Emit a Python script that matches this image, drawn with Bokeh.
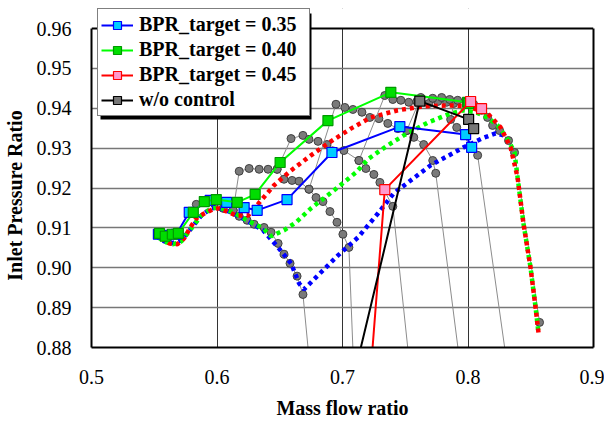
from bokeh.plotting import figure
from bokeh.models import (Legend, LegendItem, FixedTicker, Range1d, PrintfTickFormatter,
                          BoxAnnotation, Span, LinearAxis)
from bokeh.embed import file_html
from bokeh.resources import INLINE

# ---------------- data ----------------
bpr35_x = [0.5533, 0.5596, 0.5676, 0.5779, 0.5946, 0.6077, 0.6216, 0.6320, 0.6558, 0.6916, 0.7457, 0.7981, 0.8029]
bpr35_y = [0.9084, 0.9081, 0.9084, 0.9139, 0.9169, 0.9164, 0.9151, 0.9144, 0.9171, 0.9289, 0.9354, 0.9334, 0.9302]

bpr40_x = [0.5541, 0.5588, 0.5644, 0.5692, 0.5811, 0.5899, 0.5994, 0.6161, 0.6304, 0.6503, 0.6884, 0.7385, 0.7997, 0.8005]
bpr40_y = [0.9086, 0.9079, 0.9084, 0.9086, 0.9139, 0.9166, 0.9171, 0.9164, 0.9184, 0.9264, 0.9369, 0.9440, 0.9415, 0.9412]

bpr45_x = [0.7215, 0.7337, 0.8021, 0.8108]
bpr45_y = [0.8700, 0.9196, 0.9417, 0.9399]

noctrl_x = [0.7070, 0.7616, 0.8005, 0.8045]
noctrl_y = [0.8700, 0.9418, 0.9372, 0.9349]

# gray characteristic lines
spd1_x = [0.5835, 0.5978, 0.6049, 0.6129, 0.6177, 0.6240, 0.6296, 0.6375, 0.6431, 0.6487, 0.6534, 0.6582, 0.6638, 0.6685, 0.6765]
spd1_y = [0.9159, 0.9161, 0.9149, 0.9144, 0.9129, 0.9119, 0.9109, 0.9101, 0.9089, 0.9061, 0.9034, 0.9011, 0.8979, 0.8933, 0.8668]

spd2_x = [0.6129, 0.6177, 0.6256, 0.6336, 0.6407, 0.6479, 0.6534, 0.6598, 0.6654, 0.6733, 0.6789, 0.6844, 0.6900, 0.6956, 0.7003, 0.7051, 0.7099]
spd2_y = [0.9144, 0.9242, 0.9249, 0.9247, 0.9247, 0.9247, 0.9222, 0.9219, 0.9217, 0.9197, 0.9176, 0.9166, 0.9141, 0.9114, 0.9084, 0.9051, 0.8668]

spd3_x = [0.6479, 0.6590, 0.6685, 0.6733, 0.6805, 0.6876, 0.7011, 0.7131, 0.7186, 0.7250, 0.7298, 0.7401, 0.7564]
spd3_y = [0.9247, 0.9324, 0.9332, 0.9322, 0.9317, 0.9309, 0.9294, 0.9269, 0.9249, 0.9234, 0.9214, 0.9154, 0.8668]

spd4_x = [0.6733, 0.6948, 0.7019, 0.7083, 0.7155, 0.7218, 0.7290, 0.7361, 0.7441, 0.7512, 0.7568, 0.7647, 0.7719, 0.7743, 0.7973]
spd4_y = [0.9197, 0.9410, 0.9402, 0.9397, 0.9390, 0.9377, 0.9374, 0.9362, 0.9349, 0.9344, 0.9327, 0.9309, 0.9269, 0.9237, 0.8668]

spd5_x = [0.7131, 0.7337, 0.7401, 0.7465, 0.7528, 0.7592, 0.7687, 0.7759, 0.7830, 0.7886, 0.7862, 0.7910, 0.8077, 0.8351]
spd5_y = [0.9269, 0.9432, 0.9422, 0.9420, 0.9415, 0.9417, 0.9412, 0.9417, 0.9415, 0.9412, 0.9372, 0.9352, 0.9282, 0.8668]

spd6_x = [0.7512, 0.7624, 0.7719, 0.7790, 0.7854, 0.7918, 0.7981, 0.8045, 0.8108, 0.8156, 0.8196, 0.8252, 0.8323, 0.8371, 0.8570]
spd6_y = [0.9344, 0.9427, 0.9425, 0.9427, 0.9422, 0.9420, 0.9417, 0.9410, 0.9395, 0.9377, 0.9357, 0.9344, 0.9319, 0.9289, 0.8863]

# dotted stability lines
dot35_x = [0.5517, 0.5580, 0.5636, 0.5716, 0.5795, 0.5875, 0.5954, 0.6002, 0.6113, 0.6232, 0.6367, 0.6487, 0.6590,
           0.6654, 0.6693, 0.6805, 0.6964, 0.7123, 0.7282, 0.7409, 0.7703, 0.7965, 0.8108, 0.8220, 0.8283, 0.8323]
dot35_y = [0.9079, 0.9066, 0.9061, 0.9069, 0.9099, 0.9131, 0.9149, 0.9151, 0.9139, 0.9119, 0.9094, 0.9051, 0.9011,
           0.8961, 0.8946, 0.8981, 0.9031, 0.9076, 0.9136, 0.9187, 0.9257, 0.9302, 0.9324, 0.9337, 0.9332, 0.9319]

dot40_x = [0.5533, 0.5596, 0.5652, 0.5716, 0.5795, 0.5875, 0.5954, 0.6010, 0.6129, 0.6256, 0.6367, 0.6431, 0.6534,
           0.6630, 0.6749, 0.6964, 0.7107, 0.7210, 0.7361, 0.7488, 0.7679, 0.7862, 0.7965, 0.8061, 0.8156, 0.8236,
           0.8323, 0.8371, 0.8395, 0.8442, 0.8498, 0.8538, 0.8562]
dot40_y = [0.9076, 0.9064, 0.9059, 0.9066, 0.9099, 0.9131, 0.9149, 0.9151, 0.9139, 0.9116, 0.9099, 0.9079, 0.9094,
           0.9114, 0.9149, 0.9202, 0.9239, 0.9274, 0.9307, 0.9332, 0.9364, 0.9387, 0.9395, 0.9390, 0.9377, 0.9357,
           0.9319, 0.9289, 0.9227, 0.9111, 0.9001, 0.8901, 0.8836]

dot45_x = [0.5557, 0.5620, 0.5684, 0.5739, 0.5787, 0.5835, 0.5898, 0.5962, 0.6010, 0.6081, 0.6153, 0.6248, 0.6352,
           0.6455, 0.6590, 0.6749, 0.6908, 0.7067, 0.7226, 0.7441, 0.7647, 0.7862, 0.7997, 0.8156, 0.8260, 0.8339,
           0.8395, 0.8442, 0.8498, 0.8538, 0.8562]
dot45_y = [0.9074, 0.9061, 0.9059, 0.9074, 0.9101, 0.9124, 0.9136, 0.9146, 0.9149, 0.9141, 0.9131, 0.9131, 0.9169,
           0.9207, 0.9244, 0.9282, 0.9317, 0.9349, 0.9377, 0.9395, 0.9405, 0.9407, 0.9405, 0.9387, 0.9352, 0.9302,
           0.9227, 0.9111, 0.9001, 0.8901, 0.8836]

x_ticks = [0.5, 0.6, 0.7, 0.8, 0.9]
y_ticks = [0.88, 0.89, 0.90, 0.91, 0.92, 0.93, 0.94, 0.95, 0.96]
x_grid = [0.6, 0.7, 0.8]
y_grid = [0.89, 0.90, 0.91, 0.92, 0.93, 0.94, 0.95]
labels = ["BPR_target = 0.35", "BPR_target = 0.40", "BPR_target = 0.45", "w/o control"]

X_MIN, X_MAX = 0.5, 0.9
Y_MIN, Y_MAX = 0.88, 0.96
Y_VIEW_TOP = 0.96502   # a little head-room above the frame for the legend

SERIF = "Liberation Serif"

p = figure(width=604, height=422, x_range=Range1d(X_MIN, X_MAX), y_range=Range1d(Y_MIN, Y_VIEW_TOP),
           output_backend="svg", toolbar_location=None,
           min_border_left=90, min_border_right=11, min_border_top=8, min_border_bottom=75)

p.background_fill_color = "white"
p.border_fill_color = "white"
p.outline_line_color = None

for ax in (p.xaxis[0], p.yaxis[0]):
    ax.axis_line_width = 2
    ax.axis_line_color = "black"
    ax.major_tick_in = 0
    ax.major_tick_out = 0
    ax.minor_tick_in = 0
    ax.minor_tick_out = 0
    ax.major_label_text_font = SERIF
    ax.major_label_text_font_size = "20px"
    ax.major_label_text_color = "black"
    ax.axis_label_text_font = SERIF
    ax.axis_label_text_font_size = "20px"
    ax.axis_label_text_font_style = "bold"
    ax.axis_label_text_color = "black"

p.yaxis[0].bounds = (Y_MIN, Y_MAX)
p.xaxis[0].ticker = FixedTicker(ticks=x_ticks)
p.yaxis[0].ticker = FixedTicker(ticks=y_ticks)
p.xaxis[0].formatter = PrintfTickFormatter(format="%.1f")
p.yaxis[0].formatter = PrintfTickFormatter(format="%.2f")
p.xaxis[0].axis_label = "Mass flow ratio"
# non-breaking spaces keep the label centred on the plot box rather than on the head-room
p.yaxis[0].axis_label = "Inlet Pressure Ratio" + "\u00a0" * 7
p.xaxis[0].major_label_standoff = 22
p.xaxis[0].axis_label_standoff = 10
p.yaxis[0].major_label_standoff = 20
p.yaxis[0].axis_label_standoff = 8

# right frame edge as an unlabeled axis
rax = LinearAxis(bounds=(Y_MIN, Y_MAX), axis_line_width=2, axis_line_color="black",
                 major_tick_in=0, major_tick_out=0, minor_tick_in=0, minor_tick_out=0,
                 major_label_text_font_size="0px", major_label_standoff=0,
                 ticker=FixedTicker(ticks=[]))
p.add_layout(rax, "right")

p.xgrid[0].ticker = FixedTicker(ticks=x_grid)
p.ygrid[0].ticker = FixedTicker(ticks=y_grid)
p.xgrid[0].grid_line_color = "#333333"
p.xgrid[0].grid_line_width = 1
p.ygrid[0].grid_line_color = "#777777"
p.ygrid[0].grid_line_width = 1.5

# gray characteristic lines
for xs, ys in [(spd1_x, spd1_y), (spd2_x, spd2_y), (spd3_x, spd3_y),
               (spd4_x, spd4_y), (spd5_x, spd5_y), (spd6_x, spd6_y)]:
    p.line(xs, ys, line_color="#8c8c8c", line_width=1)
    p.scatter(xs, ys, marker="circle", size=8, fill_color="#7a7a7a", line_color="#404040", line_width=1)

# dotted lines
for xs, ys, c in [(dot35_x, dot35_y, "#0000ff"), (dot40_x, dot40_y, "#00ff00"), (dot45_x, dot45_y, "#ff0000")]:
    p.line(xs, ys, line_color=c, line_width=4.5, line_dash="4 4", line_cap="butt")

# main series
series = [
    (bpr35_x, bpr35_y, "#0000ff", "#00ccff", "#0000ff"),
    (bpr40_x, bpr40_y, "#00ff00", "#00dd00", "#009900"),
    (bpr45_x, bpr45_y, "#ff0000", "#ff99cc", "#ff0000"),
    (noctrl_x, noctrl_y, "#000000", "#777777", "#000000"),
]
items = []
for (xs, ys, lc, fc, ec), lab in zip(series, labels):
    l = p.line(xs, ys, line_color=lc, line_width=2)
    s = p.scatter(xs, ys, marker="square", size=10, fill_color=fc, line_color=ec, line_width=1.2)
    items.append(LegendItem(label=lab, renderers=[l, s]))

# white head-room above the plot area and its top edge
p.add_layout(BoxAnnotation(bottom=Y_MAX, fill_color="white", fill_alpha=1.0, line_color=None))
p.add_layout(Span(location=Y_MAX, dimension="width", line_color="black", line_width=2))

# legend geometry (screen px, origin at frame bottom-left)
LG_X, LG_Y = 6, 231
LG_PAD, LG_GLYPH_W, LG_STANDOFF, LG_LABEL_W, LG_ROW_H = 3, 32, 6, 167, 25
LG_W = 2 * LG_PAD + LG_GLYPH_W + LG_STANDOFF + LG_LABEL_W
LG_H = 2 * LG_PAD + 4 * LG_ROW_H

shadow = BoxAnnotation(left=LG_X + 3, right=LG_X + 3 + LG_W, bottom=LG_Y - 3, top=LG_Y - 3 + LG_H,
                       left_units="screen", right_units="screen", bottom_units="screen", top_units="screen",
                       fill_color="black", fill_alpha=1.0, line_color=None)
p.add_layout(shadow)

legend = Legend(items=items, location=(LG_X, LG_Y))
legend.label_text_font = SERIF
legend.label_text_font_size = "20px"
legend.label_text_font_style = "bold"
legend.label_text_color = "black"
legend.glyph_width = LG_GLYPH_W
legend.glyph_height = 20
legend.label_height = LG_ROW_H
legend.label_width = LG_LABEL_W
legend.label_standoff = LG_STANDOFF
legend.padding = LG_PAD
legend.spacing = 0
legend.margin = 0
legend.border_line_width = 1.5
legend.border_line_color = "black"
legend.background_fill_color = "white"
legend.background_fill_alpha = 1.0
p.add_layout(legend, "center")

open("out.html", "w").write(file_html(p, INLINE))
